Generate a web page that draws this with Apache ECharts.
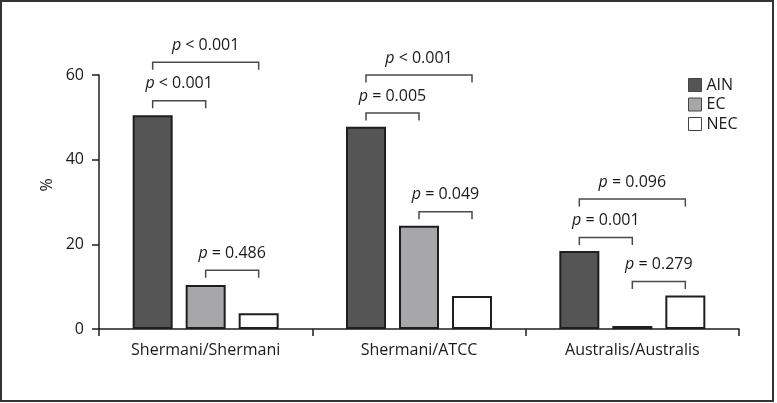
<!DOCTYPE html>
<html>
<head>
<meta charset="utf-8">
<script src="https://cdn.jsdelivr.net/npm/echarts@6/dist/echarts.min.js"></script>
<style>html,body{margin:0;padding:0;background:#fff}#c{width:777px;height:403px}</style>
</head>
<body>
<div id="c"></div>
<script>
var categories = ['Shermani/Shermani', 'Shermani/ATCC', 'Australis/Australis'];
var seriesNames = ['AIN', 'EC', 'NEC'];
var ainValues = [50.5, 47.8, 18.4];
var ecValues = [10.4, 24.4, 0.7];
var necValues = [3.7, 7.8, 7.9];
var yTicks = [0, 20, 40, 60];
// brackets: category index, from bar (0=AIN,1=EC,2=NEC), to bar, height (%), label
var bracketCat = [0, 0, 0, 1, 1, 1, 2, 2, 2];
var bracketFrom = [0, 0, 1, 0, 0, 1, 0, 0, 1];
var bracketTo = [1, 2, 2, 1, 2, 2, 1, 2, 2];
var bracketY = [53.9, 63.0, 13.9, 51.0, 60.0, 27.7, 21.6, 30.7, 11.2];
var bracketP = ['< 0.001', '< 0.001', '= 0.486', '= 0.005', '< 0.001', '= 0.049', '= 0.001', '= 0.096', '= 0.279'];

var FONT = '"Open Sans", "Noto Sans", sans-serif';
var TXT = '#1a1a1a';
var FS = 16;
var colors = ['#555555', '#a7a7a9', '#ffffff'];
var BAR_STEP = 53;

var bracketData = bracketCat.map(function (c, i) {
  return [c, bracketFrom[i], bracketTo[i], bracketY[i], i];
});

var chart = echarts.init(document.getElementById('c'), null, {renderer: 'canvas'});
var barSeries = [ainValues, ecValues, necValues].map(function (vals, i) {
  return {
    name: seriesNames[i],
    type: 'bar',
    data: vals,
    barWidth: 40,
    barGap: '32.5%',
    itemStyle: {color: colors[i], borderColor: '#1e1e1e', borderWidth: 2},
    emphasis: {disabled: true}
  };
});

chart.setOption({
  animation: false,
  textStyle: {fontFamily: FONT},
  grid: {left: 99, right: 38, top: 75, bottom: 74, containLabel: false},
  legend: {
    orient: 'vertical',
    left: 688,
    top: 77,
    padding: 0,
    itemWidth: 13,
    itemHeight: 13,
    itemGap: 3.5,
    icon: 'rect',
    data: seriesNames,
    itemStyle: {borderWidth: 1, borderColor: '#444'},
    textStyle: {fontSize: FS, color: TXT, fontFamily: FONT}
  },
  xAxis: {
    type: 'category',
    data: categories,
    axisLine: {lineStyle: {color: '#1e1e1e', width: 1.5}},
    axisTick: {show: true, length: 7, lineStyle: {color: '#1e1e1e', width: 1.5}},
    axisLabel: {fontSize: FS, color: TXT, margin: 13, fontFamily: FONT},
    splitLine: {show: false}
  },
  yAxis: {
    type: 'value',
    min: 0,
    max: 60,
    interval: 20,
    axisLine: {show: true, lineStyle: {color: '#1e1e1e', width: 1.5}},
    axisTick: {show: true, length: 7, lineStyle: {color: '#1e1e1e', width: 1.5}},
    axisLabel: {fontSize: FS, color: TXT, margin: 15, fontFamily: FONT,
      formatter: function (v) { return yTicks.indexOf(v) >= 0 ? String(v) : ''; }},
    splitLine: {show: false}
  },
  series: barSeries.concat([{
    type: 'custom',
    name: 'brackets',
    data: bracketData,
    encode: {x: 0, y: 3},
    silent: true,
    clip: false,
    renderItem: function (params, api) {
      var idx = api.value(4);
      var c = api.coord([api.value(0), api.value(3)]);
      var x1 = c[0] + (api.value(1) - 1) * BAR_STEP;
      var x2 = c[0] + (api.value(2) - 1) * BAR_STEP;
      var y = c[1];
      return {
        type: 'group',
        children: [{
          type: 'polyline',
          shape: {points: [[x1, y + 7.5], [x1, y], [x2, y], [x2, y + 7.5]]},
          style: {stroke: '#4a4a4a', lineWidth: 1.5, fill: null}
        }, {
          type: 'text',
          style: {
            text: '{i|p} ' + bracketP[idx],
            x: (x1 + x2) / 2,
            y: y - 17,
            align: 'center',
            verticalAlign: 'middle',
            fill: TXT,
            fontSize: FS,
            fontFamily: FONT,
            rich: {i: {fontStyle: 'italic', fontSize: FS, fontFamily: FONT, fill: TXT}}
          }
        }]
      };
    }
  }]),
  graphic: [{
    type: 'rect',
    shape: {x: 1, y: 1, width: 772, height: 400},
    style: {fill: null, stroke: '#333', lineWidth: 2},
    silent: true
  }, {
    type: 'text',
    x: 47,
    y: 185,
    rotation: Math.PI / 2,
    style: {text: '%', fontSize: FS, fontFamily: FONT, fill: TXT, align: 'center', verticalAlign: 'middle'}
  }]
});
</script>
</body>
</html>
